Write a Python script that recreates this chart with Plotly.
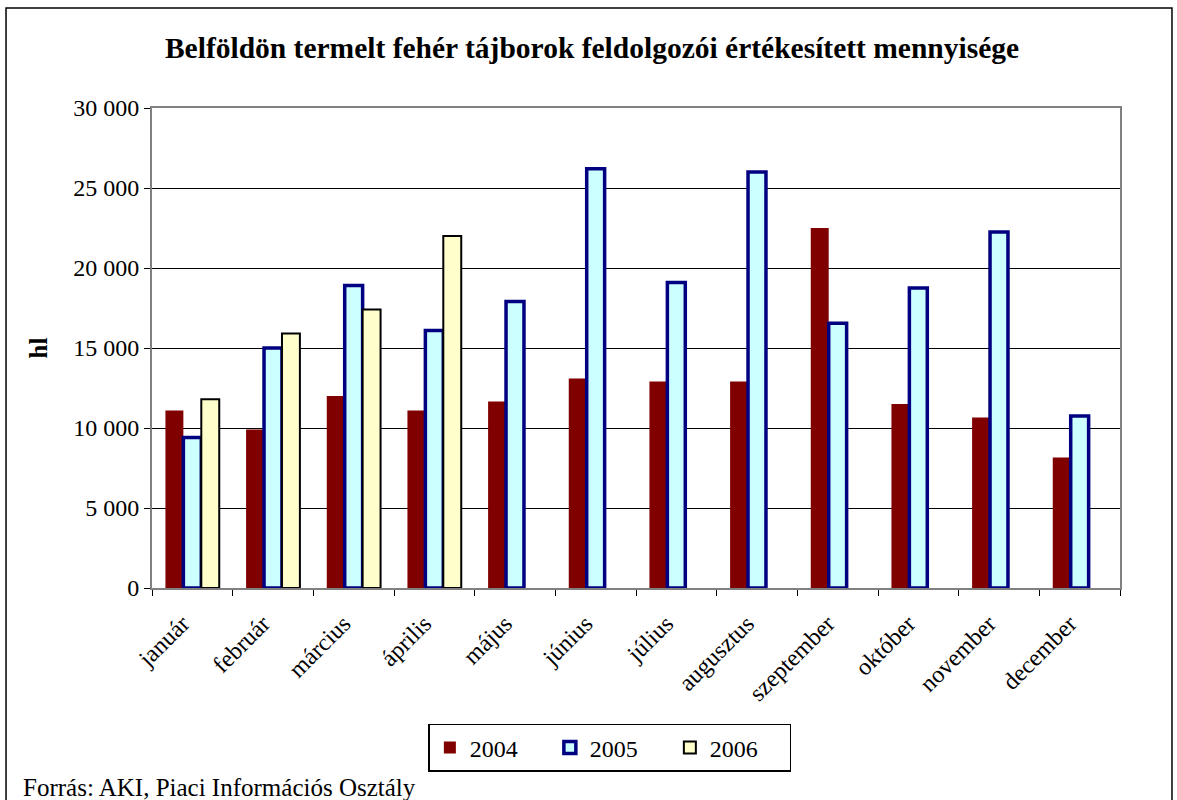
import plotly.graph_objects as go

months = ["január", "február", "március", "április", "május", "június",
          "július", "augusztus", "szeptember", "október", "november", "december"]
v2004 = [11100, 9900, 12000, 11100, 11650, 13100, 12900, 12900, 22500, 11500, 10650, 8150]
v2005 = [9400, 15000, 18900, 16100, 17900, 26200, 19100, 26000, 16550, 18750, 22250, 10750]
v2006 = [11800, 15900, 17400, 22000, None, None, None, None, None, None, None, None]

FONT = "Liberation Serif, Times New Roman, serif"

fig = go.Figure()
fig.add_trace(go.Bar(name="2004", x=months, y=v2004,
                     marker=dict(color="#800000", line=dict(width=0))))
fig.add_trace(go.Bar(name="2005", x=months, y=v2005,
                     marker=dict(color="#CCFFFF", line=dict(color="#000080", width=3.5))))
fig.add_trace(go.Bar(name="2006", x=months, y=v2006,
                     marker=dict(color="#FFFFCC", line=dict(color="#000000", width=2))))

fig.update_layout(
    width=1177, height=800,
    margin=dict(l=152, r=57, t=108, b=212),
    paper_bgcolor="white", plot_bgcolor="white",
    barmode="group", bargap=0.333, bargroupgap=0,
    separators=", ",
    font=dict(family=FONT, size=24, color="black"),
    title=dict(text="<b>Belföldön termelt fehér tájborok feldolgozói értékesített mennyisége</b>",
               x=0.503, xanchor="center", y=0.941, yanchor="middle",
               font=dict(family=FONT, size=29.5, color="black")),
    showlegend=True,
    legend=dict(orientation="h", x=0.473, xanchor="center", y=-0.283, yanchor="top",
                bordercolor="black", borderwidth=1.5, bgcolor="white",
                font=dict(family=FONT, size=24), traceorder="normal",
                itemwidth=30, entrywidth=75, entrywidthmode="pixels"),
)
fig.update_xaxes(
    showline=True, linecolor="#808080", linewidth=2, mirror=True,
    ticks="outside", tickson="boundaries", ticklen=6, tickcolor="black",
    tickangle=-45, showgrid=False,
    ticklabelstandoff=10, ticklabelshift=-10,
    tickfont=dict(family=FONT, size=24),
)
fig.update_yaxes(
    range=[0, 30000], dtick=5000, tickformat=",d",
    showline=True, linecolor="#808080", linewidth=2, mirror=True,
    ticks="outside", ticklen=6, tickcolor="black",
    showgrid=True, gridcolor="black", gridwidth=1,
    tickfont=dict(family=FONT, size=24),
    title=dict(text="<b>hl</b>", font=dict(family=FONT, size=25), standoff=18),
)
fig.add_annotation(text="Forrás: AKI, Piaci Információs Osztály",
                   xref="paper", yref="paper", x=-0.1353, y=-0.415,
                   xanchor="left", yanchor="middle", showarrow=False,
                   font=dict(family=FONT, size=25))
fig.add_shape(type="rect", xref="paper", yref="paper",
              x0=-0.1508, x1=1.0537, y0=-0.5, y1=1.2083,
              line=dict(color="black", width=1.5), layer="below")

fig.write_html("out.html", config={"displayModeBar": False},
               post_script="document.body.style.margin='0px';")
